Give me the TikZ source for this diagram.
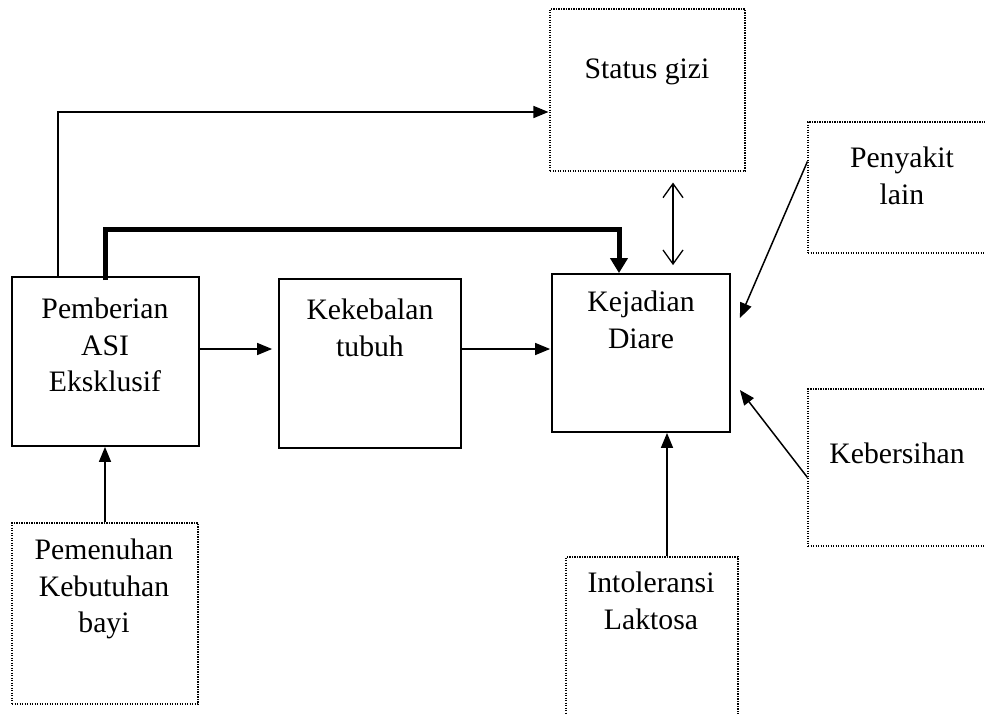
\documentclass[tikz,border=0pt]{standalone}
\usepackage{fontspec}
\setmainfont{Liberation Serif}
\usetikzlibrary{arrows.meta}
\begin{document}
\begin{tikzpicture}[x=1pt,y=-1pt,
  box/.style={draw, line width=1.8pt, inner sep=0pt},
  dotbox/.style={draw, line width=1.1pt, dash pattern=on 1.1pt off 1.4pt, inner sep=0pt},
  lbl/.style={align=center, inner sep=0pt, font=\fontsize{29.7}{36.5}\selectfont},
  arr/.style={line width=1.5pt, -{Triangle[length=15pt,width=12pt]}},
  thickarr/.style={line width=5pt, line join=miter, -{Triangle[length=15pt,width=17pt]}},
  dbl/.style={line width=1.3pt, {Straight Barb[length=14pt,width=20pt]}-{Straight Barb[length=14pt,width=20pt]}}]
\useasboundingbox (0,0) rectangle (985,713);
\clip (0,0) rectangle (985,713);
% boxes
\node[dotbox, minimum width=195pt, minimum height=162pt] (gizi) at (647.5,90) {};
\node[dotbox, minimum width=192pt, minimum height=131pt] (py) at (904,187.5) {};
\node[dotbox, minimum width=192pt, minimum height=157pt] (kb) at (904,467.5) {};
\node[dotbox, minimum width=186pt, minimum height=181pt] (pm) at (105,613.5) {};
\node[dotbox, minimum width=172pt, minimum height=173pt] (il) at (652,643.5) {};
\node[box, minimum width=187pt, minimum height=169pt] (ab) at (105.5,361.5) {};
\node[box, minimum width=182pt, minimum height=169pt] (kk) at (370,363.5) {};
\node[box, minimum width=178pt, minimum height=158pt] (kd) at (641,353) {};
% labels
\node[lbl] (tgizi) at (647,72) {Status gizi};
\node[lbl] (tpy) at (902,176) {Penyakit\\lain};
\node[lbl] (tkb) at (897,453) {Kebersihan};
\node[lbl] (tpm) at (104,589) {Pemenuhan\\Kebutuhan\\bayi};
\node[lbl] (til) at (651,601) {Intoleransi\\Laktosa};
\node[lbl] (tab) at (105,345) {Pemberian\\ASI\\Eksklusif};
\node[lbl] (tkk) at (370,328) {Kekebalan\\tubuh};
\node[lbl] (tkd) at (641,320) {Kejadian\\Diare};
% helper coordinates
\coordinate (x58) at (58,0);
\coordinate (y112) at (0,112);
\coordinate (x105) at (105,0);
\coordinate (x619) at (619,0);
\coordinate (ythick) at (0,229);
\coordinate (y349) at (0,349);
\coordinate (x673) at (673,0);
\coordinate (x667) at (667,0);
% connectors
\draw[arr] (ab.north -| x58) -- (x58 |- y112) -- ([xshift=-1pt]gizi.west |- y112);
\draw[thickarr] ([yshift=-4pt]ab.north -| x105) -- (x105 |- ythick) -- (x619 |- ythick) -- (kd.north -| x619);
\draw[arr, shorten >=6pt] (ab.east |- y349) -- (kk.west |- y349);
\draw[arr, shorten >=1pt] (kk.east |- y349) -- (kd.west |- y349);
\draw[dbl, shorten <=11pt, shorten >=8pt] (gizi.south -| x673) -- (kd.north -| x673);
\draw[arr] ([yshift=-40pt]py.north west) -- ([xshift=9pt,yshift=35pt]kd.east);
\draw[arr] ([yshift=-89pt]kb.north west) -- ([xshift=9pt,yshift=-37pt]kd.east);
\draw[arr] (pm.north) -- (ab.south -| pm.north);
\draw[arr] (il.north -| x667) -- (kd.south -| x667);
\end{tikzpicture}
\end{document}
